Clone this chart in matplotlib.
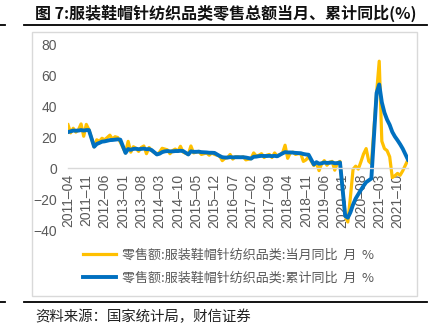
import matplotlib
matplotlib.use("Agg")
import matplotlib.pyplot as plt
import numpy as np
import pandas as pd
from matplotlib.lines import Line2D
from matplotlib.patches import Rectangle

plt.rcParams['font.family'] = ['Noto Sans CJK SC', 'DejaVu Sans']

# months 2011-04 .. 2022-02 (January is not published, left empty)
months = pd.period_range('2011-04', '2022-02', freq='M')

# 当月同比 (%)
monthly_2011 = [28.3, 23.0, 26.0, 23.5, 25.0, 28.8, 20.8, 28.5, 25.0]
monthly_2012 = [None, 14.0, 18.5, 17.5, 19.5, 18.5, 20.0, 21.5, 19.0, 20.5, 20.0, 17.0]
monthly_2013 = [None, 10.0, 17.5, 10.5, 14.0, 13.0, 11.0, 13.5, 14.5, 9.5, 13.5, 11.5]
monthly_2014 = [None, 9.0, 10.5, 13.0, 12.5, 12.0, 9.5, 11.5, 12.5, 11.0, 14.3, 10.5]
monthly_2015 = [None, 9.0, 14.5, 10.0, 10.5, 11.0, 9.0, 9.5, 10.0, 8.5, 10.0, 9.0]
monthly_2016 = [None, 8.0, 5.0, 6.5, 7.0, 9.0, 6.0, 7.5, 7.5, 7.0, 7.5, 5.5]
monthly_2017 = [None, 6.3, 10.0, 8.0, 8.5, 9.5, 7.0, 8.5, 9.0, 7.0, 10.0, 8.0]
monthly_2018 = [None, 9.7, 15.0, 6.5, 10.0, 10.5, 9.0, 9.5, 9.5, 4.5, 5.5, 7.5]
monthly_2019 = [None, 1.8, 3.5, -1.5, 3.0, 5.0, 2.0, 4.0, 4.5, -1.2, 3.5, 4.5]
monthly_2020 = [None, -30.9, -34.8, -18.5, -0.6, 1.4, -0.5, 4.2, 9.3, 12.8, 4.6, 3.0]
monthly_2021 = [None, 48.9, 69.5, 17.6, 12.8, 11.5, 7.5, -6.0, -4.8, -3.3, -4.5, -1.6]
monthly_2022 = [None, 5.6]

# 累计同比 (%)
cum_2011 = [23.5, 24.0, 24.5, 24.4, 24.5, 24.8, 24.5, 24.8, 24.8]
cum_2012 = [None, 14.0, 15.8, 16.5, 17.3, 17.5, 17.9, 18.3, 18.4, 18.6, 18.8, 18.6]
cum_2013 = [None, 10.0, 12.5, 12.0, 12.6, 12.7, 12.4, 12.6, 12.8, 12.4, 12.5, 11.8]
cum_2014 = [None, 9.0, 9.5, 10.5, 11.0, 11.2, 11.0, 11.0, 11.2, 11.2, 11.4, 11.2]
cum_2015 = [None, 9.0, 11.0, 10.7, 10.7, 10.8, 10.5, 10.4, 10.3, 10.1, 10.1, 10.0]
cum_2016 = [None, 8.0, 7.2, 7.0, 7.0, 7.3, 7.1, 7.2, 7.2, 7.2, 7.2, 7.0]
cum_2017 = [None, 6.3, 7.5, 7.6, 7.9, 8.1, 8.0, 8.0, 8.1, 7.9, 8.1, 7.8]
cum_2018 = [None, 9.7, 10.5, 10.3, 10.3, 10.2, 10.0, 9.9, 9.8, 9.3, 9.0, 8.8]
cum_2019 = [None, 2.5, 4.0, 3.0, 3.3, 3.8, 3.5, 3.6, 3.8, 3.3, 3.4, 3.8]
cum_2020 = [None, -30.9, -32.0, -28.5, -23.5, -19.6, -16.8, -14.0, -11.4, -9.0, -7.8, -6.6]
cum_2021 = [None, 48.9, 54.4, 42.8, 36.1, 31.6, 28.2, 23.6, 20.6, 18.2, 15.6, 12.7]
cum_2022 = [None, 5.6]

monthly = (monthly_2011 + monthly_2012 + monthly_2013 + monthly_2014 + monthly_2015
           + monthly_2016 + monthly_2017 + monthly_2018 + monthly_2019 + monthly_2020
           + monthly_2021 + monthly_2022)
cumulative = (cum_2011 + cum_2012 + cum_2013 + cum_2014 + cum_2015 + cum_2016
              + cum_2017 + cum_2018 + cum_2019 + cum_2020 + cum_2021 + cum_2022)

label_monthly = '零售额:服装鞋帽针纺织品类:当月同比  月  %'
label_cum = '零售额:服装鞋帽针纺织品类:累计同比  月  %'

GRAY = '#595959'


def series(values):
    y = np.array([np.nan if v is None else v for v in values], dtype=float)
    x = np.arange(len(y))
    ok = ~np.isnan(y)
    return x[ok], y[ok]


def main():
    fig = plt.figure(figsize=(4.37, 3.33), dpi=100)

    # page furniture: title, rules, chart frame, source
    fig.text(0.08, 0.961, '图 7:服装鞋帽针纺织品类零售总额当月、累计同比(%)',
             fontsize=11.5, fontweight='bold', va='center', ha='left', color='#111111')
    for y in (0.925, 0.093):
        fig.add_artist(Line2D([0.055, 0.977], [y, y], color='black', lw=1.3,
                              transform=fig.transFigure))
        fig.add_artist(Line2D([0.0, 0.011], [y, y], color='black', lw=1.3,
                              transform=fig.transFigure))
    fig.add_artist(Rectangle((0.0732, 0.111), 0.881, 0.793, fill=False,
                             edgecolor='#D9D9D9', lw=1, transform=fig.transFigure))
    fig.text(0.08, 0.047, '资料来源：国家统计局，财信证券', fontsize=10.4,
             va='center', ha='left', color='#222222')

    ax = fig.add_axes([0.1556, 0.3093, 0.778, 0.5556])
    for side in ('top', 'right', 'left'):
        ax.spines[side].set_visible(False)
    # x axis sits on the zero line (set before styling ticks, it resets them)
    ax.spines['bottom'].set_position(('data', 0))
    ax.spines['bottom'].set_color('#D9D9D9')
    ax.spines['bottom'].set_linewidth(1)
    ax.patch.set_alpha(0)

    xm, ym = series(monthly)
    xc, yc = series(cumulative)
    ax.plot(xm, ym, color='#FFC000', lw=2.3, label=label_monthly, solid_joinstyle='round')
    ax.plot(xc, yc, color='#0070C0', lw=2.8, label=label_cum, solid_joinstyle='round')

    ax.set_xlim(0, len(months) - 1)
    ax.set_ylim(-40, 80)
    ax.set_yticks(range(-40, 81, 20))

    ticks = list(range(0, len(months), 7))
    ax.set_xticks(ticks)
    ax.set_xticklabels([months[i].strftime('%Y–%m') for i in ticks], rotation=90,
                       family='Liberation Sans', fontsize=10, color=GRAY)
    for t in ax.get_yticklabels():
        t.set_family('Liberation Sans')
        t.set_fontsize(10)
        t.set_color(GRAY)

    ax.tick_params(axis='x', length=0, pad=4)
    ax.tick_params(axis='y', length=0, pad=8)

    fig.legend(loc='upper left', bbox_to_anchor=(0.19, 0.254), frameon=False,
               fontsize=9.4, handlelength=2.5, handletextpad=0.45, labelspacing=0.75,
               borderpad=0, borderaxespad=0, labelcolor=GRAY)

    fig.savefig('out.png', dpi=100)


if __name__ == "__main__":
    main()
